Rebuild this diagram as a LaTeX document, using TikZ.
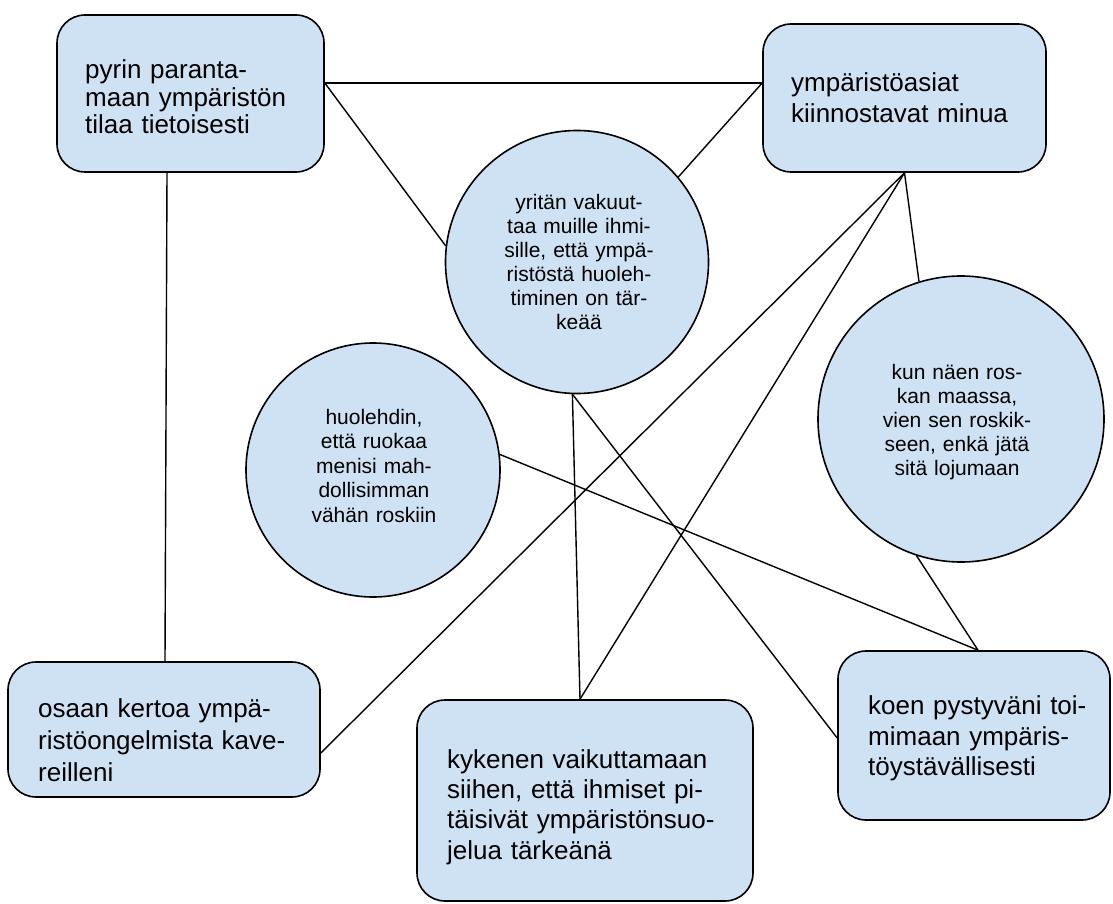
\documentclass[tikz,border=0pt]{standalone}
\usepackage{fontspec}
\setmainfont{Liberation Sans}
\usetikzlibrary{calc}
\definecolor{boxblue}{HTML}{CFE2F3}
\begin{document}
\begin{tikzpicture}[x=1pt,y=-1pt,
  box/.style={rectangle, draw=black, line width=1.6pt, fill=boxblue, rounded corners=28pt, inner sep=0pt},
  circ/.style={circle, draw=black, line width=1.6pt, fill=boxblue, inner sep=0pt},
  btext/.style={font=\fontsize{26}{31}\selectfont, text width=340pt, align=left, anchor=base west, inner sep=0pt},
  ctext/.style={font=\fontsize{21}{24}\selectfont, text width=220pt, align=center, anchor=base, inner sep=0pt},
  link/.style={draw=black, line width=1.4pt}]
\useasboundingbox (0,0) rectangle (1113,904);
\fill[white] (0,0) rectangle (1113,904);

% boxes
\node[box, minimum width=267pt, minimum height=157pt] (b1) at (190.5,93.5) {};
\node[box, minimum width=283pt, minimum height=148pt] (b2) at (904.5,98) {};
\node[box, minimum width=312pt, minimum height=135pt] (b3) at (164,729.5) {};
\node[box, minimum width=336pt, minimum height=201pt] (b4) at (585,800.5) {};
\node[box, minimum width=272pt, minimum height=169pt] (b5) at (974,735.5) {};

% circles
\node[circ, minimum size=263pt] (c1) at (577,262) {};
\node[circ, minimum size=254pt] (c2) at (373,470) {};
\node[circ, minimum size=286pt] (c3) at (961,419) {};

% box texts
\node[btext, font=\fontsize{26}{27.5}\selectfont] (t1) at (85,79) {pyrin paranta-\\maan ympäristön\\tilaa tietoisesti};
\node[btext] (t2) at (791,92) {ympäristöasiat\\kiinnostavat minua};
\node[btext, font=\fontsize{26}{32}\selectfont] (t3) at (38,717) {osaan kertoa ympä-\\ristöongelmista kave-\\reilleni};
\node[btext, font=\fontsize{26}{30.4}\selectfont] (t4) at (447,768) {kykenen vaikuttamaan\\siihen, että ihmiset pi-\\täisivät ympäristönsuo-\\jelua tärkeänä};
\node[btext, font=\fontsize{26}{30.5}\selectfont] (t5) at (868,714.5) {koen pystyväni toi-\\mimaan ympäris-\\töystävällisesti};

% circle texts
\node[ctext] (u1) at (579,209.5) {yritän vakuut-\\taa muille ihmi-\\sille, että ympä-\\ristöstä huoleh-\\timinen on tär-\\keää};
\node[ctext, font=\fontsize{21}{24.5}\selectfont] (u2) at (374,424) {huolehdin,\\että ruokaa\\menisi mah-\\dollisimman\\vähän roskiin};
\node[ctext] (u3) at (957,379) {kun näen ros-\\kan maassa,\\vien sen roskik-\\seen, enkä jätä\\sitä lojumaan};

% connectors
\draw[link] ([yshift=10.5pt]b1.east) -- ([yshift=15pt]b2.west);
\draw[link] ([yshift=10.5pt]b1.east) -- (c1.173.5);
\draw[link] ([yshift=15pt]b2.west) -- (c1.40);
\draw[link] ([xshift=-23.5pt]b1.south) -- ([xshift=1pt]b3.north);
\draw[link] (b2.south) -- ([yshift=-23.5pt]b3.east);
\draw[link] (b2.south) -- ([xshift=-5pt]b4.north);
\draw[link] (b2.south) -- (c3.107.5);
\draw[link] (c1.268) -- ([xshift=-5pt]b4.north);
\draw[link] (c1.268) -- ([yshift=-2.5pt]b5.west);
\draw[link] (c2.7.6) -- ([xshift=4pt]b5.north);
\draw[link] (c3.252.5) -- ([xshift=4pt]b5.north);
\end{tikzpicture}
\end{document}
